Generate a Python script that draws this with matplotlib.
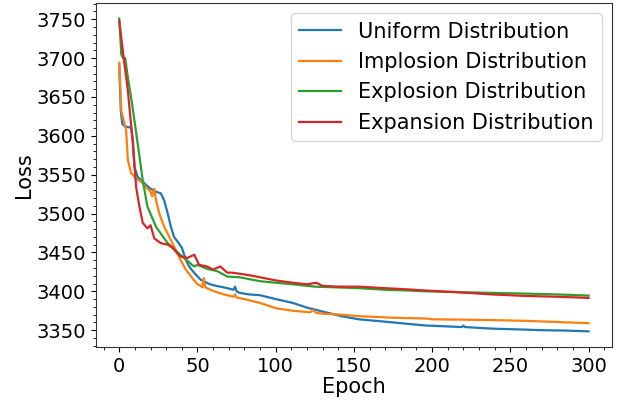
import matplotlib.pyplot as plt
from matplotlib.ticker import AutoMinorLocator

# valori (epoca, loss)
uniform_epochs = [0, 1, 2, 4, 6, 7.6, 8.7, 9.7, 11.8, 15, 17, 20, 23.5, 26.6, 28.7, 31, 33, 35,
                  38, 40, 42.5, 44.6, 47.8, 52, 55, 58, 62, 67, 73, 74, 75, 77, 83, 90, 100,
                  111, 120, 132, 142, 153, 164, 175, 185, 196, 208, 219, 220, 221, 238, 255,
                  270, 285, 300]
uniform_loss = [3690, 3632, 3615, 3612, 3611, 3611, 3594, 3560, 3547, 3541, 3537, 3532, 3528,
                3526, 3517, 3500, 3483, 3470, 3462, 3456, 3441, 3432, 3424, 3415, 3412, 3409,
                3407, 3405, 3402, 3406, 3400, 3398, 3396, 3395, 3390, 3385, 3379, 3373, 3368,
                3364, 3362, 3360, 3358, 3356, 3355, 3354, 3356, 3354, 3352, 3351, 3350, 3349.5,
                3348.5]

implosion_epochs = [0, 1.3, 3.4, 4.4, 5.5, 7.6, 10.8, 14, 17, 20, 21, 22.4, 23.5, 25.6, 28.7,
                    32, 35, 39, 42.5, 46.7, 50, 52, 53, 54, 55, 60.5, 67, 73, 74, 75, 80, 90,
                    100.6, 111, 122, 124, 126, 132, 142, 153, 175, 196, 200, 220, 238, 260,
                    280, 300]
implosion_loss = [3694, 3632, 3615, 3607, 3569, 3552, 3545, 3541, 3534, 3528, 3522, 3532, 3517,
                  3500, 3483, 3470, 3458, 3441, 3428, 3417, 3409, 3407, 3405, 3417, 3405, 3400,
                  3396, 3393, 3396, 3392, 3390, 3385, 3378, 3375, 3373, 3376, 3372, 3371, 3370,
                  3368, 3366, 3365, 3364, 3363.5, 3363, 3362, 3360.5, 3359]

explosion_epochs = [0, 1.3, 2.5, 3.8, 5.5, 7.6, 11.8, 15, 18, 23.5, 27, 31, 39, 47.8, 50, 56,
                    62.5, 69, 77, 90, 100, 111, 125, 140, 153, 170, 185, 196, 215, 238, 260,
                    280, 300]
explosion_loss = [3751, 3705, 3700, 3700, 3675, 3649, 3590, 3543, 3509, 3483, 3473, 3462, 3447,
                  3432, 3434, 3429, 3426, 3419, 3418, 3413, 3411, 3409, 3406, 3405, 3404, 3402,
                  3401, 3400, 3399, 3398, 3397, 3396, 3394.5]

expansion_epochs = [0, 2.3, 5.5, 8.7, 10.8, 12.9, 15, 18, 20, 22.4, 26.6, 31, 34, 39, 43.5, 48,
                    51, 56, 60, 64.6, 69, 72, 79, 85, 90, 100, 111, 120, 126, 130, 140, 153,
                    170, 180, 196, 215, 238, 260, 280, 300]
expansion_loss = [3748, 3709, 3658, 3590, 3534, 3509, 3488, 3481, 3485, 3468, 3462, 3460, 3456,
                  3445, 3443, 3447, 3434, 3432, 3428, 3432, 3424, 3424, 3422, 3420, 3418, 3414,
                  3411, 3409, 3411, 3407, 3406, 3406, 3404, 3403, 3401, 3399, 3396, 3394, 3393,
                  3391.5]

fig = plt.figure(figsize=(6.22, 4.03), dpi=100)
ax = fig.add_axes([0.154, 0.139, 0.83, 0.854])

ax.plot(uniform_epochs, uniform_loss, color='tab:blue', lw=1.6, label='Uniform Distribution')
ax.plot(implosion_epochs, implosion_loss, color='tab:orange', lw=1.6, label='Implosion Distribution')
ax.plot(explosion_epochs, explosion_loss, color='tab:green', lw=1.6, label='Explosion Distribution')
ax.plot(expansion_epochs, expansion_loss, color='tab:red', lw=1.6, label='Expansion Distribution')

ax.set_xticks([0, 50, 100, 150, 200, 250, 300])
ax.set_yticks([3350, 3400, 3450, 3500, 3550, 3600, 3650, 3700, 3750])
ax.xaxis.set_minor_locator(AutoMinorLocator(5))
ax.yaxis.set_minor_locator(AutoMinorLocator(5))
ax.tick_params(labelsize=14)

ax.set_xlabel('Epoch', fontsize=15, labelpad=1)
ax.set_ylabel('Loss', fontsize=15, labelpad=2)

ax.legend(loc='upper right', fontsize=15)

for s in ax.spines.values():
    s.set_color('#333333')

fig.savefig('out.png', dpi=100)
